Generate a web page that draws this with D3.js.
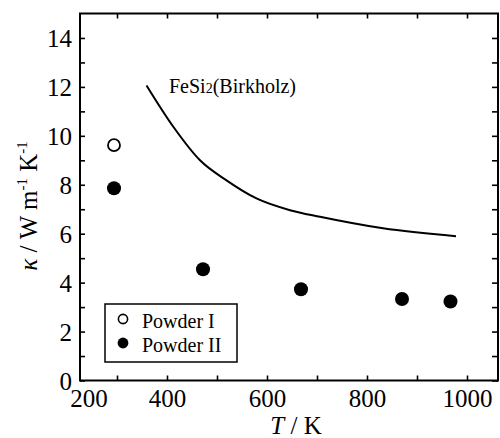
<!DOCTYPE html>
<html>
<head>
<meta charset="utf-8">
<script src="https://cdn.jsdelivr.net/npm/d3@7"></script>
<style>
  body { margin: 0; background: #fff; }
  svg text { font-family: "Liberation Serif", "Times New Roman", serif; fill: #000; }
</style>
</head>
<body>
<div id="grafico"></div>
<script>
// Datos
const powder1T = [294];
const powder1K = [9.62];
const powder2T = [294, 472, 668, 870, 967];
const powder2K = [7.86, 4.55, 3.73, 3.33, 3.23];
const birkholzT = [359, 413, 466, 519, 579, 646, 706, 832, 978];
const birkholzK = [12.06, 10.36, 9.0, 8.18, 7.44, 6.96, 6.69, 6.22, 5.90];
const xTicks = [200, 300, 400, 500, 600, 700, 800, 900, 1000];
const xLabels = [200, 400, 600, 800, 1000];
const yTicks = d3.range(0, 15, 1);
const yLabels = [0, 2, 4, 6, 8, 10, 12, 14];

const width = 500;
const height = 438;
const serif = "'Liberation Serif', 'Times New Roman', serif";

const svg = d3.select("#grafico")
    .append("svg")
    .attr("width", width)
    .attr("height", height)
    .attr("font-family", serif);

// Escalas
const x = d3.scaleLinear().domain([226, 1062]).range([80, 498]);
const y = d3.scaleLinear().domain([0, 15]).range([380.5, 13.5]);

const [x0, x1] = x.range();
const [yb, yt] = y.range();

// Ejes (ticks hacia dentro)
const fmtX = d => xLabels.includes(d) ? d : "";
const fmtY = d => yLabels.includes(d) ? d : "";

const gBottom = svg.append("g")
    .attr("transform", `translate(0,${yb})`)
    .call(d3.axisBottom(x).tickValues(xTicks).tickSize(-5).tickFormat(fmtX));

gBottom.selectAll(".tick text")
    .attr("y", 26.5)
    .attr("dy", 0);

// la etiqueta 200 queda fuera del marco: se pega al borde izquierdo
gBottom.selectAll(".tick")
    .filter(d => d < x.domain()[0])
    .attr("transform", `translate(${x0 + 9},0)`)
    .select("line").remove();

svg.append("g")
    .attr("transform", `translate(0,${yt})`)
    .call(d3.axisTop(x).tickValues(xTicks.filter(d => d >= x.domain()[0])).tickSize(-5).tickFormat(""));

const gLeft = svg.append("g")
    .attr("transform", `translate(${x0},0)`)
    .call(d3.axisLeft(y).tickValues(yTicks).tickSize(-5).tickFormat(fmtY));

gLeft.selectAll(".tick text")
    .attr("x", -8)
    .attr("dy", "0.34em");

svg.append("g")
    .attr("transform", `translate(${x1},0)`)
    .call(d3.axisRight(y).tickValues(yTicks).tickSize(-6).tickFormat(""));

svg.selectAll(".domain").remove();
svg.selectAll("g").attr("font-family", serif).attr("font-size", 25);
svg.selectAll(".tick line").attr("stroke", "#000").attr("stroke-width", 1.6);
svg.selectAll(".tick text")
    .style("font-family", serif)
    .style("font-size", "25px");

// Marco
svg.append("rect")
    .attr("x", x0)
    .attr("y", yt)
    .attr("width", x1 - x0)
    .attr("height", yb - yt)
    .attr("fill", "none")
    .attr("stroke", "#000")
    .attr("stroke-width", 2);

// Curva de Birkholz
const linea = d3.line()
    .x(d => x(d[0]))
    .y(d => y(d[1]))
    .curve(d3.curveMonotoneX);

svg.append("path")
    .datum(d3.zip(birkholzT, birkholzK))
    .attr("d", linea)
    .attr("fill", "none")
    .attr("stroke", "#000")
    .attr("stroke-width", 2);

svg.append("text")
    .attr("x", 169)
    .attr("y", 92.5)
    .style("font-size", "20px")
    .call(t => {
        t.append("tspan").text("FeSi");
        t.append("tspan").style("font-size", "14px").text("2");
        t.append("tspan").text("(Birkholz)");
    });

// Puntos
svg.append("g")
    .selectAll("circle")
    .data(d3.zip(powder1T, powder1K))
    .enter()
    .append("circle")
    .attr("cx", d => x(d[0]))
    .attr("cy", d => y(d[1]))
    .attr("r", 6)
    .attr("fill", "#fff")
    .attr("stroke", "#000")
    .attr("stroke-width", 1.8);

svg.append("g")
    .selectAll("circle")
    .data(d3.zip(powder2T, powder2K))
    .enter()
    .append("circle")
    .attr("cx", d => x(d[0]))
    .attr("cy", d => y(d[1]))
    .attr("r", 7)
    .attr("fill", "#000");

// Leyenda
const leyenda = svg.append("g").attr("transform", "translate(105,304)");

leyenda.append("rect")
    .attr("width", 132)
    .attr("height", 58)
    .attr("fill", "#fff")
    .attr("stroke", "#000")
    .attr("stroke-width", 1.5);

leyenda.append("circle")
    .attr("cx", 18).attr("cy", 15).attr("r", 4.6)
    .attr("fill", "#fff").attr("stroke", "#000").attr("stroke-width", 1.6);

leyenda.append("circle")
    .attr("cx", 18).attr("cy", 39).attr("r", 5.4)
    .attr("fill", "#000");

leyenda.append("text").attr("x", 37).attr("y", 23.5).style("font-size", "20px").text("Powder I");
leyenda.append("text").attr("x", 37).attr("y", 47.5).style("font-size", "20px").text("Powder II");

// Titulos de ejes
svg.append("text")
    .attr("x", 296)
    .attr("y", 434)
    .attr("text-anchor", "middle")
    .style("font-size", "25px")
    .call(t => {
        t.append("tspan").style("font-style", "italic").text("T");
        t.append("tspan").text(" / K");
    });

svg.append("text")
    .attr("transform", "translate(37,206) rotate(-90)")
    .attr("text-anchor", "middle")
    .style("font-size", "25px")
    .call(t => {
        t.append("tspan").style("font-style", "italic").text("κ");
        t.append("tspan").text(" / W m");
        t.append("tspan").attr("dy", -10).style("font-size", "15px").text("-1");
        t.append("tspan").attr("dy", 10).text(" K");
        t.append("tspan").attr("dy", -10).style("font-size", "15px").text("-1");
    });
</script>
</body>
</html>
